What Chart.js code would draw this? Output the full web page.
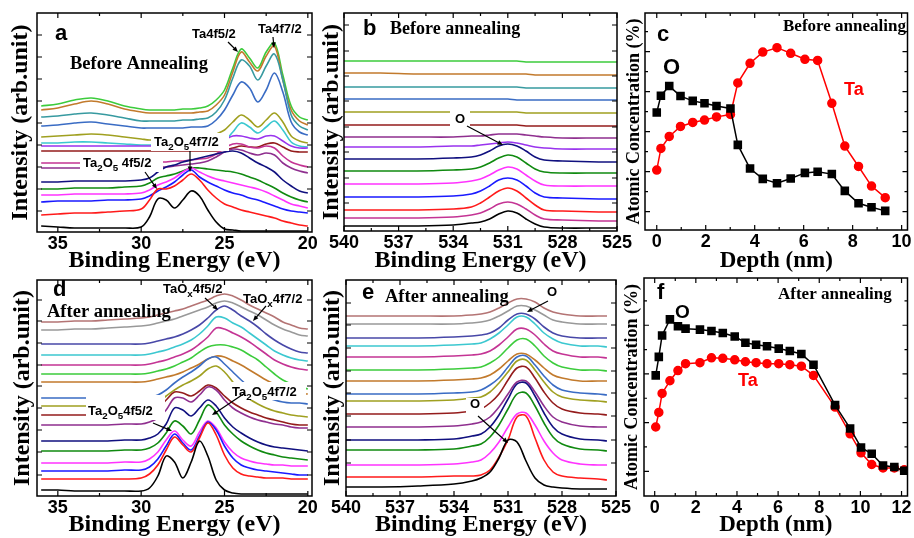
<!DOCTYPE html>
<html>
<head>
<meta charset="utf-8">
<script src="https://cdn.jsdelivr.net/npm/chart.js@4.4.0/dist/chart.umd.min.js"></script>
<style>
html, body { margin: 0; padding: 0; background: #fff; overflow: hidden; }
body { width: 914px; height: 538px; position: relative; }
canvas { position: absolute; }
</style>
</head>
<body>
<canvas id="pa" width="320" height="280" style="left:0;top:0"></canvas>
<canvas id="pb" width="320" height="280" style="left:320px;top:0"></canvas>
<canvas id="pc" width="294" height="280" style="left:620px;top:0"></canvas>
<canvas id="pd" width="320" height="270" style="left:0;top:268px"></canvas>
<canvas id="pe" width="320" height="270" style="left:320px;top:268px"></canvas>
<canvas id="pf" width="294" height="270" style="left:620px;top:268px"></canvas>
<script>
// ---- panel a : Ta 4f, before annealing (heights in arb. units) ----
const aEnergy = [36, 35, 34, 33, 32, 31, 30, 29.5, 29, 28.5, 28, 27.5, 27, 26.5, 26, 25.5, 25, 24.5, 24, 23.5, 23, 22.5, 22, 21.5, 21, 20.5, 20];
const aLime = [126,128,132,134,131,126,123,122,122,122,122,123,123,124,126,132,142,164,183,174,164,180,189,157,126,115,112];
const aBrown = [122,124,128,131,128,123,120,119,119,119,119,119,119,120,121,127,137,160,180,170,161,176,186,152,122,111,107];
const aTeal = [115,116,118,119,117,114,111,111,111,111,111,112,112,113,114,120,132,154,172,166,152,166,178,152,117,106,102];
const aRoyal = [106,107,109,110,108,106,104,104,104,104,104,104,105,105,106,112,122,137,150,144,130,142,159,140,110,100,97];
const aOlive = [95,96,97,98,97,95,93,92,92,92,92,93,93,94,95,98,102,110,117,112,105,112,119,110,96,91,89];
const aCyan = [89,89,90,90,89,88,87,87,87,87,87,87,87,87,87,88,91,100,109,105,99,105,111,102,90,86,85];
const aViolet = [86,86,86,86,86,86,86,86,86,86,86,86,86,86,86,88,92,96,96,94,93,96,96,91,86,84,84];
const aWine = [81,81,81,81,81,81,81,81,81,81,81,81,81,81,81,81,82,84,86,85,85,88,89,85,81,80,80];
const aPink = [69,69,69,69,69,69,69,69,70,70,71,71,72,73,74,78,84,88,88,85,84,86,84,76,70,67,65];
const aPurple = [64,64,64,64,64,64,64,64,65,65,66,67,68,69,71,75,80,83,82,79,77,79,77,69,64,61,59];
const aNavy = [50,50,51,51,51,51,52,54,60,65,67,70,72,74,76,78,80,81,79,74,69,65,60,52,46,41,39];
const aGreen = [43,43,44,44,44,45,46,49,54,56,58,61,64,64,63,62,61,60,58,55,52,48,44,39,35,32,30];
const aMagenta = [37,37,38,38,38,38,39,42,47,50,54,60,64,60,56,53,51,49,47,45,43,40,36,32,28,26,24];
const aBlue = [30,31,31,31,32,32,33,36,41,45,50,57,62,55,50,46,42,39,37,34,32,29,26,23,21,20,19];
const aRed = [17,18,19,19,20,21,23,32,43,43,46,52,58,52,42,34,28,25,22,20,18,16,14,11,9,7,6];
const aBlack = [6,5,4,4,4,4,5,15,33,32,24,32,41,36,22,10,3,2,1,1,1,1,1,1,1,1,1];

// ---- panel b : O 1s, before annealing ----
const bEnergy = [540, 538, 536, 534, 533, 532.5, 532, 531.5, 531, 530.5, 530, 529.5, 529, 528, 526, 525];
const bLime = [170,170,170,170,170,170,170,170,170,170,169,169,169,169,169,169];
const bBrown = [158,158,157,157,157,157,157,157,157,157,157,156,156,156,156,156];
const bTeal = [144,144,144,144,144,144,144,144,144,144,143,143,143,143,143,143];
const bRoyal = [132,132,132,132,132,132,132,132,132,131,131,131,131,131,131,131];
const bOlive = [119,119,119,119,119,119,119,119,119,119,118,118,118,118,118,118];
const bWine = [106,106,106,106,106,106,106,106,106,106,105,105,105,105,105,105];
const bPurple = [94,94,94,94,95,95,96,97,97,97,96,95,94,93,93,93];
const bViolet = [84,84,84,85,85,86,87,88,89,88,86,84,83,82,82,82];
const bNavy = [72,72,72,73,74,76,80,85,87,85,80,74,71,70,69,69];
const bGreen = [60,60,60,61,62,64,68,73,76,74,68,62,59,58,58,58];
const bMagenta = [47,47,47,48,50,52,56,61,64,62,56,50,46,45,45,45];
const bBlue = [34,34,34,35,37,40,45,51,53,51,45,38,34,33,32,32];
const bRed = [21,21,21,22,24,28,34,40,43,40,33,26,21,20,19,19];
const bPink = [13,13,13,14,16,18,22,27,29,27,22,16,12,11,10,10];
const bBlack = [5,5,5,6,8,9,12,17,20,18,12,7,4,3,3,3];

// ---- panel c : depth profile before annealing ----
const cDepth = [0, 0.17, 0.51, 0.97, 1.47, 1.95, 2.44, 3.01, 3.31, 3.81, 4.33, 4.91, 5.47, 6.05, 6.57, 7.15, 7.68, 8.24, 8.77, 9.33];
const cOxygen = [34.8, 39.0, 41.4, 38.9, 37.7, 37.1, 36.4, 35.8, 26.7, 20.8, 18.2, 17.1, 18.3, 19.7, 20.0, 19.4, 15.2, 12.1, 11.1, 10.2];
const cTantalum = [20.4, 25.8, 28.8, 31.3, 32.3, 32.9, 33.7, 34.3, 42.2, 47.1, 49.9, 51.0, 49.6, 48.1, 47.8, 37.1, 26.4, 21.3, 16.4, 13.5];

// ---- panel d : Ta 4f, after annealing ----
const dEnergy = [36, 35, 34, 33, 32, 31, 30, 29.5, 29, 28.5, 28, 27.5, 27, 26.5, 26, 25.5, 25, 24.5, 24, 23.5, 23, 22.5, 22, 21.5, 21, 20.5, 20];
const dRosy = [174,174,175,175,176,177,178,179,181,183,185,187,190,193,196,200,202,200,196,191,187,183,179,174,171,168,167];
const dGray = [166,166,167,167,168,169,170,171,173,175,177,180,183,186,189,193,195,193,189,185,181,176,171,167,164,161,160];
const dSlate = [152,152,152,152,152,152,152,153,155,157,159,162,166,171,178,186,190,186,180,175,169,162,156,151,147,144,143];
const dCyan = [141,141,141,141,141,141,141,142,144,146,149,152,156,162,170,179,178,173,169,163,157,151,145,141,138,136,135];
const dPink = [131,131,131,131,131,131,131,132,134,136,139,142,146,152,159,168,167,163,159,154,148,142,136,132,129,127,126];
const dLime = [122,122,122,122,122,122,122,123,125,127,130,134,138,144,149,151,151,149,146,141,136,129,122,116,112,109,107];
const dBrown = [114,114,114,114,114,114,114,115,117,119,121,124,128,132,137,140,139,135,131,126,121,116,112,108,105,103,102];
const dRoyal = [98,98,98,98,98,98,98,99,101,106,113,119,124,130,137,139,132,124,116,109,103,99,96,94,93,93,92];
const dOlive = [90,90,90,90,90,90,90,91,94,100,106,111,115,120,127,130,124,114,104,97,92,88,85,83,81,80,79];
const dWine = [81,81,81,81,81,81,82,84,88,96,104,103,100,105,111,108,100,93,88,84,81,78,76,74,72,71,71];
const dPurple = [71,71,71,71,71,72,72,74,78,86,98,98,94,101,109,106,96,88,83,79,76,74,72,71,69,68,68];
const dNavy = [55,55,55,55,55,56,56,58,62,72,88,86,80,88,96,90,78,69,63,58,54,51,49,48,47,46,45];
const dGreen = [45,45,45,45,45,46,46,48,53,63,75,70,62,76,91,84,71,62,55,50,46,43,41,39,38,37,36];
const dMagenta = [33,33,33,33,33,34,34,37,44,56,65,56,50,64,75,68,54,44,38,35,33,32,31,31,30,30,30];
const dBlue = [25,25,25,25,25,26,26,29,37,50,62,53,46,60,74,66,50,38,31,28,26,25,24,23,22,21,21];
const dRed = [17,17,17,17,17,17,18,22,31,46,59,51,44,58,73,61,41,28,22,20,19,18,18,18,17,17,17];
const dBlack = [6,6,5,5,5,5,5,8,20,40,34,18,34,55,40,16,6,3,2,2,2,2,2,2,2,2,2];

// ---- panel e : O 1s, after annealing ----
const eEnergy = [540, 538, 536, 534, 533, 532.5, 532, 531.5, 531, 530.5, 530, 529.5, 529, 528.5, 528, 527, 526, 525.5];
const eRosy = [180,180,180,180,181,182,184,188,193,197,197,194,188,184,182,180,180,180];
const eGray = [172,172,172,172,173,174,176,180,185,190,190,186,181,176,174,172,172,172];
const eSlate = [158,158,158,159,160,161,163,168,176,182,182,177,169,163,160,158,158,158];
const eCyan = [150,150,150,151,152,153,157,163,171,179,179,172,163,157,153,150,150,149];
const ePink = [139,139,139,140,141,142,145,151,159,167,167,161,152,145,142,139,139,138];
const eLime = [126,126,126,127,128,129,133,139,148,156,157,150,140,133,129,126,126,125];
const eBrown = [115,115,115,116,117,118,121,127,135,142,142,136,128,121,118,115,115,115];
const eRoyal = [102,102,102,103,104,106,111,118,129,139,140,131,120,111,106,103,102,101];
const eOlive = [95,95,95,96,98,99,104,113,124,135,136,126,114,104,99,96,95,94];
const eWine = [82,82,82,83,85,87,93,102,116,128,129,118,104,93,87,83,82,81];
const ePurple = [69,69,69,70,72,74,79,89,102,114,115,104,90,79,74,70,69,69];
const eNavy = [56,56,56,57,60,62,69,81,97,112,113,100,83,69,62,57,56,55];
const eGreen = [46,46,46,47,50,52,59,71,87,102,103,90,73,59,52,47,46,45];
const eMagenta = [31,31,31,32,34,36,43,54,69,82,83,71,55,43,36,32,31,31];
const eRed = [19,19,19,20,20,21,26,39,56,79,80,58,36,24,20,18,17,16];
const eBlack = [9,9,10,12,15,18,24,38,56,54,35,18,11,9,8,7,7,7];

// ---- panel f : depth profile after annealing ----
const fDepth = [0.05, 0.2, 0.36, 0.74, 1.13, 1.5, 2.2, 2.76, 3.31, 3.89, 4.41, 4.93, 5.46, 6.03, 6.57, 7.13, 7.72, 8.77, 9.5, 10.03, 10.55, 11.1, 11.65, 12.13];
const fOxygen = [29.7, 33.5, 37.9, 41.2, 39.8, 39.3, 39.1, 38.8, 38.4, 37.7, 36.4, 36.0, 35.7, 35.2, 34.7, 34.1, 31.9, 23.6, 18.8, 14.9, 13.6, 11.2, 10.9, 10.1];
const fTantalum = [19.1, 22.1, 26.0, 28.6, 30.7, 32.1, 32.3, 33.3, 33.2, 32.9, 32.5, 32.3, 32.1, 32.1, 31.9, 31.6, 29.7, 23.2, 17.7, 13.8, 11.4, 10.7, 10.7, 10.3];

// tick positions
const tiMajor = [35, 30, 25, 20];
const tiMinor = [32.5, 27.5, 22.5];
const oxMajor = [540, 537, 534, 531, 528, 525];
const oxMinor = [538.5, 535.5, 532.5, 529.5, 526.5];

const SERIF = 'Liberation Serif';
const SANS = 'Liberation Sans';
const col = {
    black: '#000000', red: '#ff1a1a', blue: '#1a1aff', magenta: '#ff33ff', green: '#108a10',
    navy: '#10107f', violet: '#9933ee', purple: '#8f2f8f', pink: '#c43494', wine: '#941c1c',
    olive: '#a0a020', cyan: '#3cc8d0', royal: '#3a6cc4', teal: '#379aa0', brown: '#c27a2c',
    lime: '#3ccc3c', gray: '#999999', rosy: '#b47474', slate: '#4848a8'
};

// Draw a label made of parts, a part flagged 1 is a subscript
function note(ctx, n) {
    const parts = typeof n.t === 'string' ? [[n.t]] : n.t;
    let x = n.x;
    ctx.fillStyle = n.color || '#000';
    ctx.textAlign = 'left';
    ctx.textBaseline = 'alphabetic';
    parts.forEach(function (p) {
        const size = p[1] ? n.size * 0.75 : n.size;
        ctx.font = 'bold ' + size + 'px "' + (n.family || SANS) + '"';
        ctx.fillText(p[0], x, n.y + (p[1] ? n.size * 0.3 : 0));
        x += ctx.measureText(p[0]).width;
    });
}

function arrow(ctx, x1, y1, x2, y2) {
    const ang = Math.atan2(y2 - y1, x2 - x1), h = 6;
    ctx.strokeStyle = '#000';
    ctx.fillStyle = '#000';
    ctx.lineWidth = 1.2;
    ctx.beginPath();
    ctx.moveTo(x1, y1);
    ctx.lineTo(x2 - Math.cos(ang) * h * 0.7, y2 - Math.sin(ang) * h * 0.7);
    ctx.stroke();
    ctx.beginPath();
    ctx.moveTo(x2, y2);
    ctx.lineTo(x2 - h * Math.cos(ang - 0.4), y2 - h * Math.sin(ang - 0.4));
    ctx.lineTo(x2 - h * Math.cos(ang + 0.4), y2 - h * Math.sin(ang + 0.4));
    ctx.closePath();
    ctx.fill();
}

// Frame with inward ticks on four sides, plus the panel's labels
const panelPlugin = {
    id: 'panel',
    afterDatasetsDraw(chart, args, o) {
        const ctx = chart.ctx, ca = chart.chartArea;
        const sx = chart.scales.x, sy = chart.scales.y;
        ctx.save();
        ctx.fillStyle = '#fff';
        (o.boxes || []).forEach(function (b) { ctx.fillRect(b[0], b[1], b[2] - b[0], b[3] - b[1]); });
        (o.arrows || []).forEach(function (a) { arrow(ctx, a[0], a[1], a[2], a[3]); });
        (o.notes || []).forEach(function (n) { note(ctx, n); });

        ctx.strokeStyle = '#000';
        ctx.lineWidth = 1.5;
        ctx.strokeRect(ca.left, ca.top, ca.right - ca.left, ca.bottom - ca.top);
        ctx.lineWidth = 1.2;
        ctx.beginPath();
        function xt(list, len) {
            list.forEach(function (v) {
                const p = sx.getPixelForValue(v);
                ctx.moveTo(p, ca.bottom); ctx.lineTo(p, ca.bottom - len);
                ctx.moveTo(p, ca.top); ctx.lineTo(p, ca.top + len);
            });
        }
        function yt(list, len) {
            list.forEach(function (v) {
                const p = sy.getPixelForValue(v);
                ctx.moveTo(ca.left, p); ctx.lineTo(ca.left + len, p);
                ctx.moveTo(ca.right, p); ctx.lineTo(ca.right - len, p);
            });
        }
        xt(o.xMajor || [], 5);
        xt(o.xMinor || [], 3);
        yt(o.yMajor || [], 5);
        yt(o.yMinor || [], 3);
        ctx.stroke();
        ctx.restore();
    }
};

function spectra(xs, list) {
    return list.map(function (c) {
        return {
            data: xs.map(function (x, i) { return { x: x, y: c[0][i] }; }),
            borderColor: c[1], borderWidth: 1.6, pointRadius: 0, tension: 0.35, fill: false
        };
    });
}

function depth(xs, oxy, ta) {
    return [
        {
            data: xs.map(function (x, i) { return { x: x, y: oxy[i] }; }),
            borderColor: '#000', backgroundColor: '#000', borderWidth: 1.5,
            pointStyle: 'rect', pointRadius: 5, tension: 0
        },
        {
            data: xs.map(function (x, i) { return { x: x, y: ta[i] }; }),
            borderColor: '#ff0000', backgroundColor: '#ff0000', borderWidth: 1.5,
            pointStyle: 'circle', pointRadius: 4, tension: 0
        }
    ];
}

function makeChart(id, cfg) {
    new Chart(document.getElementById(id), {
        type: 'line',
        data: { datasets: cfg.datasets },
        options: {
            responsive: false,
            animation: false,
            devicePixelRatio: 1,
            layout: { padding: { top: cfg.pad[0], right: cfg.pad[1], bottom: 0, left: 0 } },
            plugins: { legend: { display: false }, tooltip: { enabled: false }, panel: cfg.panel },
            scales: {
                x: {
                    type: 'linear', reverse: cfg.reverse, min: cfg.xMin, max: cfg.xMax,
                    afterBuildTicks: function (s) { s.ticks = cfg.panel.xMajor.map(function (v) { return { value: v }; }); },
                    afterFit: function (s) { s.height = cfg.xh; s.paddingLeft = 0; s.paddingRight = 0; },
                    ticks: { color: '#000', font: { family: SANS, weight: 'bold', size: 18, lineHeight: 1 }, padding: 3, maxRotation: 0, autoSkip: false },
                    grid: { display: false, drawTicks: false },
                    border: { display: false },
                    title: {
                        display: true, text: cfg.xTitle, color: '#000',
                        font: { family: SERIF, weight: 'bold', size: cfg.xtSize, lineHeight: 1 },
                        padding: { top: 0, bottom: cfg.xtPad }
                    }
                },
                y: {
                    type: 'linear', min: cfg.yMin, max: cfg.yMax,
                    afterFit: function (s) { s.width = cfg.yw; s.paddingTop = 0; s.paddingBottom = 0; },
                    ticks: { display: false },
                    grid: { display: false, drawTicks: false },
                    border: { display: false },
                    title: {
                        display: true, text: cfg.yTitle, color: '#000',
                        font: { family: SERIF, weight: 'bold', size: cfg.ytSize, lineHeight: 1 },
                        padding: { top: cfg.ytPad, bottom: 0 }
                    }
                }
            }
        },
        plugins: [panelPlugin]
    });
}

const TA2O5 = [['Ta'], ['2', 1], ['O'], ['5', 1]];

document.addEventListener('DOMContentLoaded', function () {
    makeChart('pa', {
        datasets: spectra(aEnergy, [
            [aBlack, col.black], [aRed, col.red], [aBlue, col.blue], [aMagenta, col.magenta],
            [aGreen, col.green], [aNavy, col.navy], [aPurple, col.purple], [aPink, col.pink],
            [aWine, col.wine], [aViolet, col.violet], [aCyan, col.cyan], [aOlive, col.olive],
            [aRoyal, col.royal], [aTeal, col.teal], [aBrown, col.brown], [aLime, col.lime]
        ]),
        reverse: true, xMin: 19.75, xMax: 36.25, yMin: 0, yMax: 219,
        pad: [13, 8], yw: 37, xh: 48, xtPad: 7, xtSize: 24, ytPad: 9, ytSize: 24,
        xTitle: 'Binding Energy (eV)', yTitle: 'Intensity (arb.unit)',
        panel: {
            xMajor: tiMajor, xMinor: tiMinor,
            yMajor: [21, 43, 65, 87, 109, 131, 153, 175, 197],
            boxes: [[151, 133, 229, 151], [80, 155, 163, 172]],
            arrows: [[228, 42, 238, 52], [273, 37, 274, 48], [190, 151, 190, 172], [145, 172, 157, 189]],
            notes: [
                { t: 'a', x: 55, y: 40, size: 22 },
                { t: 'Before Annealing', x: 70, y: 69, size: 18.5, family: SERIF },
                { t: 'Ta4f5/2', x: 192, y: 38, size: 13 },
                { t: 'Ta4f7/2', x: 258, y: 33, size: 13 },
                { t: TA2O5.concat([['4f7/2']]), x: 154, y: 146, size: 13 },
                { t: TA2O5.concat([[' 4f5/2']]), x: 83, y: 167, size: 13 }
            ]
        }
    });

    makeChart('pb', {
        datasets: spectra(bEnergy, [
            [bBlack, col.black], [bPink, col.pink], [bRed, col.red], [bBlue, col.blue],
            [bMagenta, col.magenta], [bGreen, col.green], [bNavy, col.navy], [bViolet, col.violet],
            [bPurple, col.purple], [bWine, col.wine], [bOlive, col.olive], [bRoyal, col.royal],
            [bTeal, col.teal], [bBrown, col.brown], [bLime, col.lime]
        ]),
        reverse: true, xMin: 525, xMax: 540, yMin: 0, yMax: 218,
        pad: [13, 23], yw: 24, xh: 49, xtPad: 7, xtSize: 24, ytPad: 0, ytSize: 24,
        xTitle: 'Binding Energy (eV)', yTitle: 'Intensity (arb.unit)',
        panel: {
            xMajor: oxMajor, xMinor: oxMinor,
            yMajor: [28, 53, 79, 104, 130, 155, 180, 206],
            boxes: [[130, 108, 150, 128]],
            arrows: [[147, 126, 183, 145]],
            notes: [
                { t: 'b', x: 43, y: 35, size: 22 },
                { t: 'Before annealing', x: 70, y: 34, size: 18, family: SERIF },
                { t: 'O', x: 135, y: 123, size: 13 }
            ]
        }
    });

    makeChart('pc', {
        datasets: depth(cDepth, cOxygen, cTantalum),
        reverse: false, xMin: -0.48, xMax: 10.24, yMin: 5.42, yMax: 59.67,
        pad: [13, 1], yw: 25, xh: 50, xtPad: 7, xtSize: 23, ytPad: 5, ytSize: 18,
        xTitle: 'Depth (nm)', yTitle: 'Atomic Concentration (%)',
        panel: {
            xMajor: [0, 2, 4, 6, 8, 10], xMinor: [1, 3, 5, 7, 9],
            yMajor: [10, 20, 30, 40, 50], yMinor: [15, 25, 35, 45, 55],
            notes: [
                { t: 'c', x: 37, y: 41, size: 22 },
                { t: 'Before annealing', x: 163, y: 31, size: 17, family: SERIF },
                { t: 'O', x: 43, y: 74, size: 22 },
                { t: 'Ta', x: 224, y: 95, size: 18, color: '#ff0000' }
            ]
        }
    });

    makeChart('pd', {
        datasets: spectra(dEnergy, [
            [dBlack, col.black], [dRed, col.red], [dBlue, col.blue], [dMagenta, col.magenta],
            [dGreen, col.green], [dNavy, col.navy], [dPurple, col.purple], [dWine, col.wine],
            [dOlive, col.olive], [dRoyal, col.royal], [dBrown, col.brown], [dLime, col.lime],
            [dPink, col.pink], [dCyan, col.cyan], [dSlate, col.slate], [dGray, col.gray], [dRosy, col.rosy]
        ]),
        reverse: true, xMin: 19.75, xMax: 36.25, yMin: 0, yMax: 216,
        pad: [12, 8], yw: 37, xh: 42, xtPad: 1, xtSize: 24, ytPad: 10.5, ytSize: 24,
        xTitle: 'Binding Energy (eV)', yTitle: 'Intensity (arb.unit)',
        panel: {
            xMajor: tiMajor, xMinor: tiMinor,
            yMajor: [21, 44, 66, 88, 110, 131, 153, 175, 196],
            boxes: [[230, 114, 306, 132], [86, 127, 165, 152]],
            arrows: [[205, 30, 218, 42], [266, 38, 253, 53], [245, 125, 212, 147], [153, 155, 172, 163]],
            notes: [
                { t: 'd', x: 53, y: 28, size: 22 },
                { t: 'After annealing', x: 47, y: 49, size: 18.5, family: SERIF },
                { t: [['TaO'], ['x', 1], ['4f5/2']], x: 163, y: 25, size: 13 },
                { t: [['TaO'], ['x', 1], ['4f7/2']], x: 243, y: 35, size: 13 },
                { t: TA2O5.concat([['4f7/2']]), x: 232, y: 128, size: 13 },
                { t: TA2O5.concat([['4f5/2']]), x: 88, y: 147, size: 13 }
            ]
        }
    });

    makeChart('pe', {
        datasets: spectra(eEnergy, [
            [eBlack, col.black], [eRed, col.red], [eMagenta, col.magenta], [eGreen, col.green],
            [eNavy, col.navy], [ePurple, col.purple], [eWine, col.wine], [eOlive, col.olive],
            [eRoyal, col.royal], [eBrown, col.brown], [eLime, col.lime], [ePink, col.pink],
            [eCyan, col.cyan], [eSlate, col.slate], [eGray, col.gray], [eRosy, col.rosy]
        ]),
        reverse: true, xMin: 525, xMax: 540, yMin: 0, yMax: 216,
        pad: [12, 24], yw: 26, xh: 42, xtPad: 1, xtSize: 24, ytPad: 0.5, ytSize: 24,
        xTitle: 'Binding Energy (eV)', yTitle: 'Intensity (arb.unit)',
        panel: {
            xMajor: oxMajor, xMinor: oxMinor,
            yMajor: [33, 56, 80, 103, 125, 148, 171, 193],
            boxes: [[146, 130, 164, 149]],
            arrows: [[228, 33, 207, 44], [158, 148, 188, 175]],
            notes: [
                { t: 'e', x: 42, y: 31, size: 22 },
                { t: 'After annealing', x: 65, y: 34, size: 18.5, family: SERIF },
                { t: 'O', x: 227, y: 28, size: 13 },
                { t: 'O', x: 150, y: 140, size: 13 }
            ]
        }
    });

    makeChart('pf', {
        datasets: depth(fDepth, fOxygen, fTantalum),
        reverse: false, xMin: -0.52, xMax: 12.29, yMin: 4.93, yMax: 49.7,
        pad: [10, 1], yw: 24, xh: 42, xtPad: 1, xtSize: 23, ytPad: 3.5, ytSize: 18,
        xTitle: 'Depth (nm)', yTitle: 'Atomic Concentration (%)',
        panel: {
            xMajor: [0, 2, 4, 6, 8, 10, 12], xMinor: [1, 3, 5, 7, 9, 11],
            yMajor: [10, 20, 30, 40], yMinor: [15, 25, 35, 45],
            notes: [
                { t: 'f', x: 37, y: 31, size: 22 },
                { t: 'After annealing', x: 158, y: 31, size: 17, family: SERIF },
                { t: 'O', x: 55, y: 50, size: 19 },
                { t: 'Ta', x: 118, y: 118, size: 18, color: '#ff0000' }
            ]
        }
    });
});
</script>
</body>
</html>
